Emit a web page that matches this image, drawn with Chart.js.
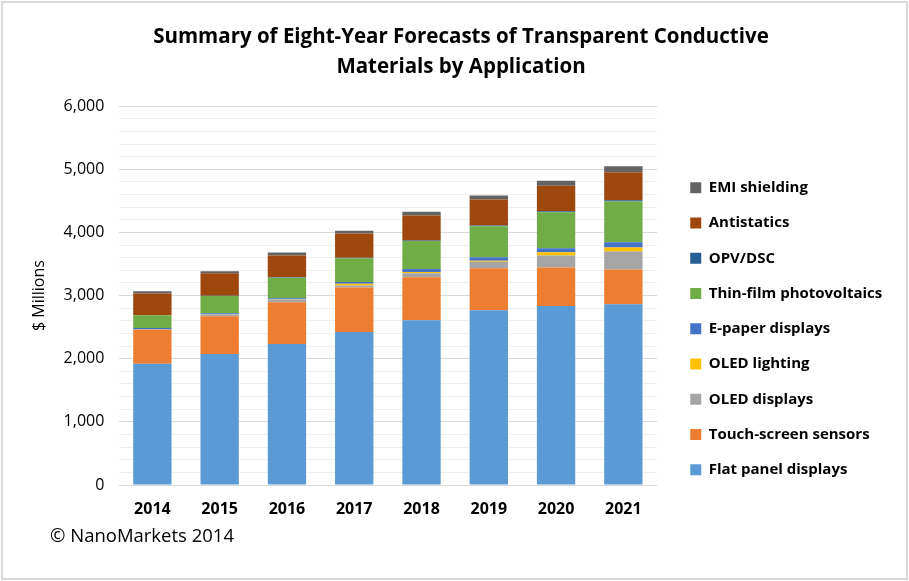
<!DOCTYPE html>
<html>
<head>
<meta charset="utf-8">
<script src="https://cdn.jsdelivr.net/npm/chart.js@4"></script>
<style>
  body { margin: 0; background: #fff; }
  #wrap { position: relative; width: 909px; height: 581px; }
  #frame { position: absolute; left: 1px; top: 1px; width: 907px; height: 579px; box-sizing: border-box; border: 2px solid #d9d9d9; pointer-events: none; }
  #note { position: absolute; left: 50px; top: 522px; font: 18.5px "Open Sans", sans-serif; color: #000; }
</style>
</head>
<body>
<div id="wrap">
  <canvas id="salesChart" width="909" height="581"></canvas>
  <div id="frame"></div>
  <div id="note">© NanoMarkets 2014</div>
</div>
<script>
const years = ['2014', '2015', '2016', '2017', '2018', '2019', '2020', '2021']

// $ millions
const flatPanel = [1920, 2075, 2235, 2425, 2610, 2770, 2835, 2865]
const touchScreen = [540, 600, 660, 705, 680, 665, 610, 550]
const oledDisplays = [10, 30, 45, 32, 63, 100, 190, 285]
const oledLighting = [0, 5, 3, 26, 21, 16, 53, 63]
const ePaper = [18, 12, 16, 26, 47, 58, 63, 84]
const thinFilmPV = [200, 272, 325, 379, 443, 490, 569, 643]
const opvDsc = [2, 3, 5, 6, 8, 10, 16, 21]
const antistatics = [343, 359, 347, 385, 395, 412, 406, 442]
const emiShielding = [36, 31, 48, 42, 63, 63, 79, 95]

const titleLines = ['Summary of Eight-Year Forecasts of Transparent Conductive', 'Materials by Application']

Chart.defaults.font.family = 'Open Sans'
Chart.defaults.color = '#000'

// keep the legend where the original one sits, a bit right of the plot
const legendSpot = {
    id: 'legendSpot',
    beforeInit(chart) {
        const fit = chart.legend.fit
        chart.legend.fit = function () {
            fit.call(this)
            this.width = 909 - 657
        }
    },
    afterLayout(chart) {
        chart.legend.left = 670
    }
}

function series(label, data, color) {
    return { label: label, data: data, backgroundColor: color, borderWidth: 0 }
}

const chart = new Chart(document.getElementById('salesChart'), {
    type: 'bar',
    data: {
        labels: years,
        datasets: [
            series('Flat panel displays', flatPanel, '#5B9BD5'),
            series('Touch-screen sensors', touchScreen, '#ED7D31'),
            series('OLED displays', oledDisplays, '#A5A5A5'),
            series('OLED lighting', oledLighting, '#FFC000'),
            series('E-paper displays', ePaper, '#4472C4'),
            series('Thin-film photovoltaics', thinFilmPV, '#70AD47'),
            series('OPV/DSC', opvDsc, '#255E91'),
            series('Antistatics', antistatics, '#9E480E'),
            series('EMI shielding', emiShielding, '#636363')
        ]
    },
    options: {
        responsive: false,
        animation: false,
        barPercentage: 0.57,
        categoryPercentage: 1,
        layout: { padding: { left: 13, right: 0, top: 0, bottom: 48 } },
        plugins: {
            tooltip: { enabled: false },
            title: {
                display: true,
                text: titleLines,
                font: { size: 20.5, weight: 'bold', lineHeight: 1.42 },
                padding: { top: 23, bottom: 25 }
            },
            legend: {
                position: 'right',
                align: 'start',
                reverse: true,
                title: { display: true, text: ' ', font: { size: 10 }, padding: { top: 148, bottom: 0 } },
                labels: {
                    boxWidth: 11,
                    boxHeight: 11,
                    padding: 20.25,
                    font: { size: 15, weight: 'bold' }
                }
            }
        },
        scales: {
            x: {
                stacked: true,
                grid: { display: false, drawTicks: false },
                border: { display: false },
                ticks: { padding: 14.4, font: { size: 16, weight: 'bold' } }
            },
            y: {
                stacked: true,
                min: 0,
                max: 6000,
                border: { display: false },
                grid: {
                    drawTicks: false,
                    color: (ctx) => ctx.tick && ctx.tick.value % 1000 === 0 ? '#d9d9d9' : '#efefef'
                },
                ticks: {
                    stepSize: 200,
                    autoSkip: false,
                    padding: 14.4,
                    font: { size: 16 },
                    callback: (v) => v % 1000 === 0 ? v.toLocaleString('en-US') : ''
                },
                title: {
                    display: true,
                    text: '$ Millions',
                    font: { size: 16 },
                    padding: { top: 17, bottom: 0 }
                }
            }
        }
    },
    plugins: [legendSpot]
})
</script>
</body>
</html>
